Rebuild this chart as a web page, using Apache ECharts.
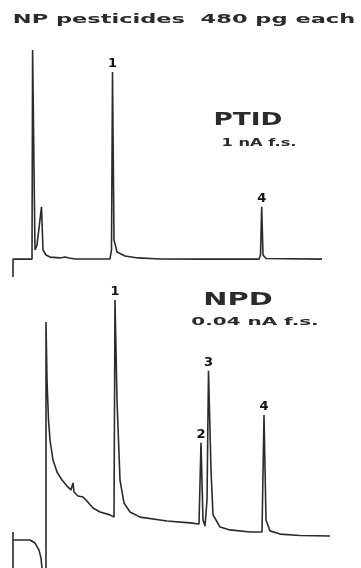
<!DOCTYPE html>
<html>
<head>
<meta charset="utf-8">
<title>NP pesticides 480 pg each</title>
<script src="https://cdn.jsdelivr.net/npm/echarts@6/dist/echarts.min.js"></script>
<style>
html, body { margin: 0; padding: 0; background: #ffffff; }
#chart { width: 361px; height: 568px; }
</style>
</head>
<body>
<div id="chart"></div>
<script>
// retention time (min) against detector signal (% of full scale)

// PTID, 1 nA f.s.
const ptidTrace = [
  [0.05, -8.5], [0.05, 0], [1.0, 0], [1.03, 100], [1.15, 4.4], [1.25, 6.8],
  [1.475, 25], [1.55, 4.4], [1.7, 2], [1.9, 1], [2.4, 0.6], [2.65, 1.0],
  [2.75, 1.5], [2.85, 0.6], [3.15, 0.1], [4.9, 0.1], [4.975, 4.4],
  [5.025, 89.5], [5.1, 9.2], [5.25, 3.4], [5.65, 1.5], [6.3, 0.6],
  [7.4, 0.1], [9.4, 0], [12.35, 0], [12.425, 2], [12.485, 25], [12.55, 2],
  [12.7, 0.3], [15.5, 0]
]
const ptidPeaks = [[5.025, 89.5], [12.485, 25]]
const ptidPeakNames = ['1', '4']

// NPD, 0.04 nA f.s.
const npdPen = [
  [0.05, -10], [0.05, 1.25], [0.05, -1.25], [0.9, -1.25], [1.15, -2.2],
  [1.35, -4.4], [1.45, -6.9], [1.5, -10]
]
const npdTrace = [
  [1.7, -10], [1.7, 66.9], [1.75, 48.75], [1.825, 36.25], [1.9, 30],
  [2.05, 23.75], [2.25, 20], [2.5, 17.5], [2.75, 15.6], [2.95, 14.4],
  [3.05, 16.6], [3.1, 13.75], [3.3, 12.5], [3.55, 12.2], [3.7, 11.25],
  [4.05, 8.75], [4.4, 7.5], [4.9, 6.6], [5.1, 5.9], [5.15, 73.75],
  [5.25, 42.5], [5.4, 17.5], [5.6, 10.3], [5.9, 7.5], [6.4, 5.9],
  [7.75, 4.7], [8.9, 4.1], [9.35, 3.75], [9.45, 29.1], [9.55, 5],
  [9.65, 3.1], [9.75, 11.25], [9.825, 51.6], [9.95, 20.6], [10.05, 6.6],
  [10.2, 5], [10.4, 2.8], [10.9, 1.9], [11.9, 1.25], [12.5, 1.25],
  [12.6, 37.8], [12.7, 5], [12.9, 1.6], [13.4, 0.6], [14.4, 0.15], [15.9, 0]
]
const npdPeaks = [[5.15, 73.75], [9.45, 29.1], [9.825, 51.6], [12.6, 37.8]]
const npdPeakNames = ['1', '2', '3', '4']

const title = 'NP pesticides  480 pg each'
const ptidName = 'PTID'
const ptidRange = '1 nA f.s.'
const npdName = 'NPD'
const npdRange = '0.04 nA f.s.'

const ink = '#2b2b2b'
const font = '"DejaVu Sans", sans-serif'

const chart = echarts.init(document.getElementById('chart'), null, { renderer: 'canvas' })

const hiddenAxis = {
  show: false,
  axisLine: { show: false },
  axisTick: { show: false },
  axisLabel: { show: false },
  splitLine: { show: false }
}

const traceSeries = (data, gridIndex) => ({
  type: 'line',
  xAxisIndex: gridIndex,
  yAxisIndex: gridIndex,
  data: data,
  symbol: 'none',
  lineStyle: { color: ink, width: 1.6 },
  silent: true,
  animation: false
})

// peak numbers sit just above each apex
const labelSeries = (peaks, names, gridIndex) => ({
  type: 'scatter',
  xAxisIndex: gridIndex,
  yAxisIndex: gridIndex,
  symbolSize: 2,
  itemStyle: { color: 'rgba(0,0,0,0)', opacity: 1 },
  label: {
    show: true,
    position: 'top',
    distance: 1,
    formatter: '{b}',
    color: '#111111',
    fontFamily: font,
    fontWeight: 'bold',
    fontSize: 13
  },
  data: peaks.map((p, i) => ({ value: p, name: names[i] })),
  silent: true,
  animation: false
})

const stretchedText = (text, x, y, size, scale) => ({
  type: 'text',
  x: x,
  y: y,
  scaleX: scale,
  silent: true,
  style: {
    text: text,
    font: 'bold ' + size + 'px ' + font,
    fill: ink,
    textAlign: 'center',
    textVerticalAlign: 'middle'
  }
})

const option = {
  backgroundColor: '#ffffff',
  animation: false,
  grid: [
    { left: 12, top: 50, width: 320, height: 228 },
    { left: 12, top: 280, width: 320, height: 288 }
  ],
  xAxis: [
    Object.assign({ type: 'value', gridIndex: 0, min: 0, max: 16 }, hiddenAxis),
    Object.assign({ type: 'value', gridIndex: 1, min: 0, max: 16 }, hiddenAxis)
  ],
  yAxis: [
    Object.assign({ type: 'value', gridIndex: 0, min: -9, max: 100 }, hiddenAxis),
    Object.assign({ type: 'value', gridIndex: 1, min: -10, max: 80 }, hiddenAxis)
  ],
  graphic: [
    stretchedText(title, 184, 20, 13, 1.73),
    stretchedText(ptidName, 248, 121, 17, 1.55),
    stretchedText(ptidRange, 259, 143, 10.5, 1.55),
    stretchedText(npdName, 238, 301, 17, 1.7),
    stretchedText(npdRange, 255, 322, 10.5, 1.9)
  ],
  series: [
    traceSeries(ptidTrace, 0),
    labelSeries(ptidPeaks, ptidPeakNames, 0),
    traceSeries(npdPen, 1),
    traceSeries(npdTrace, 1),
    labelSeries(npdPeaks, npdPeakNames, 1)
  ]
}

chart.setOption(option)
</script>
</body>
</html>
